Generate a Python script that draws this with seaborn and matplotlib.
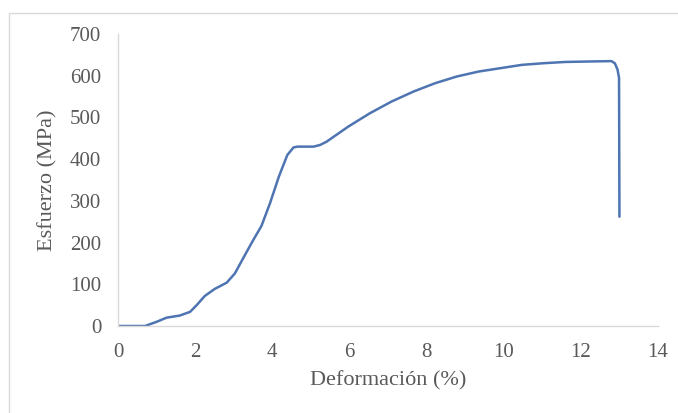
import matplotlib
matplotlib.use("Agg")
import matplotlib.pyplot as plt
import seaborn as sns
import pandas as pd
from matplotlib.patches import Rectangle

strain = [0.0, 0.70, 1.00, 1.26, 1.60, 1.87, 2.04, 2.25, 2.51, 2.82, 3.03, 3.29,
          3.50, 3.72, 3.94, 4.17, 4.39, 4.55, 4.65, 5.07, 5.24, 5.41, 5.97, 6.53,
          7.09, 7.66, 8.22, 8.78, 9.35, 9.91, 10.47, 11.04, 11.60, 12.16, 12.79,
          12.88, 12.95, 12.99, 13.00]
stress = [0, 0, 10, 20, 25, 34, 50, 72, 89, 104, 126, 170,
          205, 240, 294, 358, 410, 428, 430, 430, 434, 442, 478, 510,
          538, 562, 582, 598, 610, 618, 626, 630, 633, 634, 635,
          630, 615, 595, 262]

x_ticks = [0, 2, 4, 6, 8, 10, 12, 14]
y_ticks = [0, 100, 200, 300, 400, 500, 600, 700]

df = pd.DataFrame({"Deformación (%)": strain, "Esfuerzo (MPa)": stress})

sns.set_theme(style="white")
plt.rcParams["font.family"] = ["Liberation Serif", "DejaVu Serif"]

fig = plt.figure(figsize=(6.78, 4.13), dpi=100)
ax = fig.add_axes([118/678, 1-326/413, (658-118)/678, (326-34)/413])
sns.lineplot(data=df, x="Deformación (%)", y="Esfuerzo (MPa)", ax=ax,
             color="#4E74B2", linewidth=1.8, sort=False)

ax.set_xlim(0, 14)
ax.set_ylim(0, 700)
ax.set_xticks(x_ticks)
ax.set_yticks(y_ticks)
ax.tick_params(axis="both", length=0, labelsize=15, colors="#595959")
ax.tick_params(axis="x", pad=12)
ax.tick_params(axis="y", pad=12)
for s in ["top", "right"]:
    ax.spines[s].set_visible(False)
for s in ["left", "bottom"]:
    ax.spines[s].set_color("#D9D9D9")
    ax.spines[s].set_linewidth(1.0)
ax.set_xlabel("Deformación (%)", fontsize=16, color="#595959", labelpad=7)
ax.set_ylabel("Esfuerzo (MPa)", fontsize=16, color="#595959", labelpad=9)

fig.patches.append(Rectangle((9/678, -0.05), 1.2, 1-13/413+0.05,
                             transform=fig.transFigure, fill=False,
                             edgecolor="#D9D9D9", linewidth=1.0))

fig.savefig("out.png", dpi=100)
